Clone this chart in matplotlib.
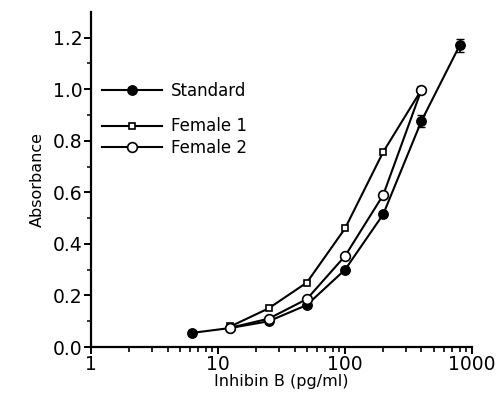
import numpy as np
import matplotlib.pyplot as plt
from matplotlib.ticker import FixedLocator, NullFormatter

# dilution curves, inhibin B ELISA
conc_std = [6.25, 12.5, 25, 50, 100, 200, 400, 800]
abs_std = [0.055, 0.074, 0.10, 0.163, 0.30, 0.515, 0.877, 1.17]
err_std = [0, 0, 0, 0, 0, 0, 0.025, 0.025]

conc_f = [12.5, 25, 50, 100, 200, 400]
abs_f1 = [0.08, 0.15, 0.25, 0.46, 0.757, 0.998]
abs_f2 = [0.075, 0.11, 0.186, 0.353, 0.59, 0.998]

fig = plt.figure(figsize=(5.01, 3.98), dpi=100)
ax = fig.add_axes([0.182, 0.128, 0.76, 0.842])

l1, = ax.plot(conc_std, abs_std, 'k-o', lw=1.5, ms=6.8, mfc='black', zorder=3)
ax.errorbar(conc_std, abs_std, yerr=err_std, fmt='none', ecolor='black', elinewidth=1.2, capsize=3, zorder=2)
l2, = ax.plot(conc_f, abs_f1, 'k-s', lw=1.5, ms=4.8, mfc='white', mew=1.2, zorder=4)
l3, = ax.plot(conc_f, abs_f2, 'k-o', lw=1.5, ms=7, mfc='white', mew=1.2, zorder=4)

ax.set_xscale('log')
ax.set_xlim(1, 1000)
ax.set_ylim(0, 1.3)
ax.set_yticks([0.0, 0.2, 0.4, 0.6, 0.8, 1.0, 1.2])
ax.set_yticklabels(['0.0', '0.2', '0.4', '0.6', '0.8', '1.0', '1.2'])
ax.yaxis.set_minor_locator(FixedLocator([0.1, 0.3, 0.5, 0.7, 0.9, 1.1]))
ax.set_xticks([1, 10, 100, 1000])
ax.set_xticklabels(['1', '10', '100', '1000'])
minors = [m * d for d in (1, 10, 100) for m in range(2, 10)]
ax.set_xticks(minors, minor=True)
ax.xaxis.set_minor_formatter(NullFormatter())

ax.spines['top'].set_visible(False)
ax.spines['right'].set_visible(False)
ax.spines['left'].set_linewidth(1.6)
ax.spines['bottom'].set_linewidth(1.6)
ax.tick_params(which='major', direction='out', length=5, width=1.4, labelsize=13.5, pad=1)
ax.tick_params(axis='y', which='minor', direction='out', length=3, width=1.1)
ax.tick_params(axis='x', which='minor', direction='out', length=3.5, width=1.2, bottom=True)

ax.set_xlabel('Inhibin B (pg/ml)', fontsize=11.5, labelpad=0)
ax.set_ylabel('Absorbance', fontsize=11.5, labelpad=6)

leg1 = ax.legend([l1], ['Standard'], loc='upper left', bbox_to_anchor=(-0.01, 0.835),
                 frameon=False, fontsize=12, handlelength=3.6, handletextpad=0.5)
ax.add_artist(leg1)
ax.legend([l2, l3], ['Female 1', 'Female 2'], loc='upper left', bbox_to_anchor=(-0.01, 0.73),
          frameon=False, fontsize=12, handlelength=3.6, handletextpad=0.5, labelspacing=0.2)

fig.savefig('out.png', dpi=100)
